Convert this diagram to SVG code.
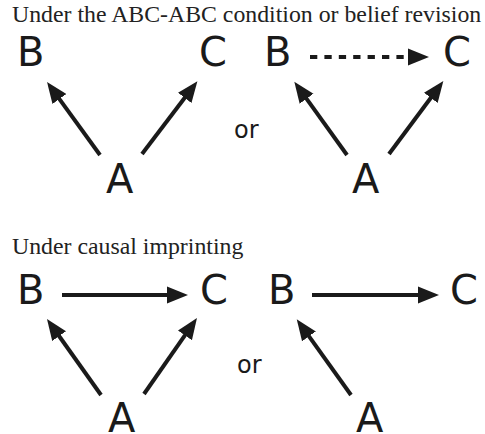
<svg xmlns="http://www.w3.org/2000/svg" width="485" height="434" viewBox="0 0 485 434">
<style>
.title{font-family:"Liberation Serif","Times New Roman",serif;font-size:23.8px;fill:#222}
.node{font-family:"DejaVu Sans",Verdana,sans-serif;font-size:40px;fill:#1a1a1a}
.or{font-family:"DejaVu Sans",Verdana,sans-serif;font-size:24px;fill:#1a1a1a}
.edge{stroke:#1a1a1a;stroke-width:4;fill:none;marker-end:url(#head)}
.dash{stroke-dasharray:7.3 7.1}
</style>
<defs>
<marker id="head" markerUnits="userSpaceOnUse" markerWidth="22" markerHeight="18" refX="2" refY="9" orient="auto" viewBox="0 0 22 18">
<path d="M0,0.5 L21,9 L0,17.5 Z" fill="#1a1a1a"/>
</marker>
</defs>
<text class="title" x="12" y="22">Under the ABC-ABC condition or belief revision</text>
<text class="title" x="12" y="254">Under causal imprinting</text>
<g id="top-left">
<g id="tl-B"><text class="node" x="17" y="66">B</text></g>
<g id="tl-C"><text class="node" x="199" y="66">C</text></g>
<g id="tl-A"><text class="node" x="106" y="193">A</text></g>
</g>
<g id="top-or"><text class="or" x="234" y="138">or</text></g>
<g id="top-right">
<g id="tr-B"><text class="node" x="264" y="66">B</text></g>
<g id="tr-C"><text class="node" x="443" y="66">C</text></g>
<g id="tr-A"><text class="node" x="352" y="193">A</text></g>
</g>
<g id="bottom-left">
<g id="bl-B"><text class="node" x="17" y="304">B</text></g>
<g id="bl-C"><text class="node" x="200" y="304">C</text></g>
<g id="bl-A"><text class="node" x="108" y="432">A</text></g>
</g>
<g id="bottom-or"><text class="or" x="237" y="373">or</text></g>
<g id="bottom-right">
<g id="br-B"><text class="node" x="268" y="304">B</text></g>
<g id="br-C"><text class="node" x="450" y="304">C</text></g>
<g id="br-A"><text class="node" x="356" y="432">A</text></g>
</g>
<g id="connectors">
<line class="edge" x1="100" y1="155" x2="58.2" y2="97.4"/>
<line class="edge" x1="142" y1="154" x2="185.9" y2="96.3"/>
<line class="edge" x1="347" y1="155" x2="305.4" y2="97.1"/>
<line class="edge" x1="389" y1="154" x2="432" y2="96.3"/>
<line class="edge dash" x1="310" y1="57" x2="410" y2="57"/>
<line class="edge" x1="101" y1="395" x2="58" y2="334.5"/>
<line class="edge" x1="144" y1="394" x2="186.1" y2="333.7"/>
<line class="edge" x1="351" y1="395" x2="307.8" y2="334.7"/>
<line class="edge" x1="62" y1="295" x2="169" y2="295"/>
<line class="edge" x1="312" y1="295" x2="420" y2="295"/>
</g>
</svg>
